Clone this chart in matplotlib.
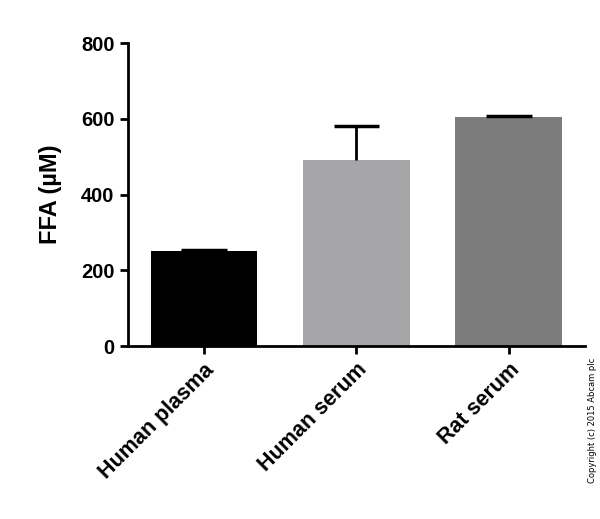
import matplotlib
matplotlib.use("Agg")
import matplotlib.pyplot as plt

samples = ["Human plasma", "Human serum", "Rat serum"]
ffa_means = [250, 492, 605]
ffa_err = [4, 88, 2]
bar_colors = ["#000000", "#a6a6a8", "#7c7c7c"]

fig = plt.figure(figsize=(6, 5.19), dpi=100)
ax = fig.add_axes([0.213, 0.333, 0.762, 0.584])

x = list(range(len(samples)))
ax.bar(x, ffa_means, width=0.7, color=bar_colors, zorder=2)
# upper-only error bars with a single cap
tops = [m + e for m, e in zip(ffa_means, ffa_err)]
ax.vlines(x, ffa_means, tops, colors="black", linewidth=2, zorder=3)
ax.hlines(tops, [i - 0.15 for i in x], [i + 0.15 for i in x],
          colors="black", linewidth=2.5, zorder=3)

ax.set_xlim(-0.5, 2.5)
ax.set_ylim(0, 800)
ax.set_yticks([0, 200, 400, 600, 800])
ax.set_xticks(x)
ax.set_xticklabels(samples, rotation=45, ha="right", rotation_mode="anchor",
                   fontsize=15.5, fontweight="bold", family="Liberation Sans")
for lab in ax.get_yticklabels():
    lab.set_fontsize(14.5)
    lab.set_fontweight("bold")
    lab.set_family("Liberation Sans")
ax.set_ylabel("FFA (µM)", fontsize=17, fontweight="bold", labelpad=14,
              family="Liberation Sans")

for side in ["top", "right"]:
    ax.spines[side].set_visible(False)
for side in ["left", "bottom"]:
    ax.spines[side].set_linewidth(2)
ax.tick_params(width=2, length=6)

fig.text(0.988, 0.19, "Copyright (c) 2015 Abcam plc", rotation=90,
         fontsize=6, ha="center", va="center")

fig.savefig("out.png", dpi=100)
